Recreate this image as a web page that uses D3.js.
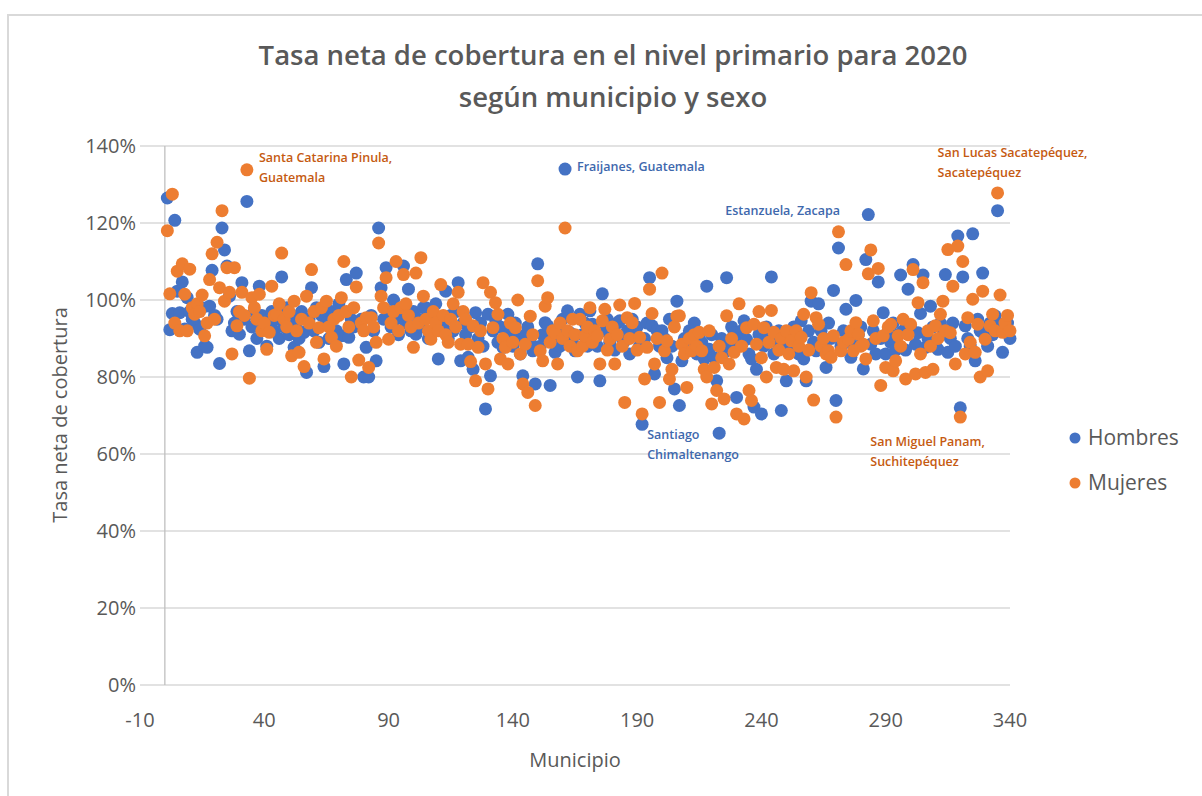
<!DOCTYPE html>
<html>
<head>
<meta charset="utf-8">
<script src="https://cdn.jsdelivr.net/npm/d3@7"></script>
<style>
  body { margin: 0; background: #fff; }
  text { font-family: "Open Sans", "Noto Sans", sans-serif; }
</style>
</head>
<body>
<div id="chart"></div>
<script>
// Tasa neta de cobertura (%) por municipio, 1..340
const hombres = [
  126.5, 92.3, 96.5, 120.7, 102.3, 96.7, 104.7, 92.5, 100.6, 97,
  95, 94, 86.4, 92.4, 98, 88, 87.7, 98.4, 107.7, 96,
  95, 83.5, 118.7, 113, 108.8, 101, 92, 94, 97, 91.1,
  104.5, 95, 125.6, 86.8, 93, 97, 90, 103.6, 96, 93.7,
  88, 94, 97, 92, 95, 90, 106, 93, 98, 91,
  96, 87.7, 94, 90, 97, 91.6, 81.2, 95, 103.2, 92,
  98, 89, 96, 82.7, 94, 90, 97, 96.3, 92, 99,
  90.7, 83.4, 105.3, 90.3, 95, 93, 107, 94, 95, 80,
  87.7, 80, 96, 92, 84.2, 118.7, 103.2, 95, 108.4, 97,
  93, 100, 95, 91, 96, 108.8, 94, 102.8, 92, 97,
  91.1, 95, 93, 98, 98, 90, 96, 92, 99, 84.7,
  95, 93, 102.3, 90, 96, 92, 97, 104.5, 84.2, 94,
  91, 85.1, 93, 82, 96.7, 90, 94, 88, 71.7, 96.3,
  80.3, 92, 95, 89, 93, 87.7, 90, 96.3, 92, 88,
  94, 90, 86, 80.3, 91, 93, 89, 86.8, 78.2, 109.4,
  88, 91, 94.1, 93.3, 77.8, 90, 86.4, 92, 88, 95,
  134, 97.2, 91.5, 89, 86.8, 80, 96.3, 91, 94, 88,
  97.2, 93.7, 90, 88, 79, 101.6, 92, 95, 89, 91,
  87, 94, 94.6, 90, 89.4, 92, 86, 95, 91, 93,
  88, 67.7, 90, 94, 105.8, 93.3, 80.8, 92, 88, 92,
  90, 85, 95, 88, 76.9, 99.7, 72.6, 84.2, 90, 87,
  92, 88, 94, 86, 91, 89, 84.7, 103.6, 87.2, 91,
  85, 79, 65.4, 90, 86.4, 105.8, 88, 93, 91.5, 74.7,
  89, 92, 94.6, 89.8, 86, 84.7, 72.2, 82, 91, 70.4,
  88, 93, 90, 106, 86, 89, 92, 71.3, 88, 79,
  91, 87, 93, 90, 86, 94.6, 84.7, 79, 92, 99.7,
  89, 86.8, 99, 92, 88, 82.5, 94, 90, 102.5, 73.9,
  113.5, 88, 92, 97.6, 90, 85.1, 88, 99.9, 91, 93,
  82.1, 110.5, 122.2, 88.5, 92, 86, 104.7, 90, 96.7, 86,
  92, 89, 94, 87, 91, 106.5, 92, 87, 102.8, 93,
  109.2, 88.5, 91.5, 96.5, 106.5, 87.7, 90, 98.4, 93, 88,
  87.2, 94, 92.4, 106.6, 86.4, 90, 94, 88, 116.6, 72,
  106, 93.3, 90, 88, 117.2, 84.2, 95, 92, 107, 90.3,
  88, 94, 91, 95.9, 123.2, 93.7, 86.4, 92, 94, 90
];
const mujeres = [
  118, 101.6, 127.5, 94, 107.5, 92, 109.4, 101.5, 92, 108,
  98, 96.3, 99, 97, 101.3, 90.7, 94, 105.3, 112, 95,
  115, 103.2, 123.2, 99.7, 108.4, 102, 86, 108.4, 93.3, 97,
  102, 96, 133.8, 79.7, 100.6, 98, 95, 101.5, 92, 94,
  87.2, 91.6, 103.6, 96, 96.3, 99, 112.2, 95, 93, 97,
  85.5, 99.7, 92, 86.4, 95, 82.7, 101, 94, 107.9, 97,
  89, 92.8, 98, 84.7, 99.7, 93, 90.3, 95, 88, 96,
  100.6, 110, 97, 93, 80, 98, 103.4, 84.4, 94, 92,
  95.4, 82.5, 95.4, 93, 89, 114.8, 101, 98, 105.8, 89.8,
  94, 97, 110, 92, 98, 106.6, 99, 96, 93, 87.7,
  107, 94, 111, 101, 95, 92, 89.8, 97, 94, 92,
  104, 96, 91, 89, 95, 99, 93, 102, 88.5, 97,
  95, 88.5, 84, 93.3, 79, 87.7, 92, 104.5, 83.4, 76.9,
  102, 92.8, 99.3, 96.3, 84.7, 90, 87.7, 83.4, 94, 89,
  92.8, 100, 86, 78.2, 88.5, 76, 95.8, 91, 72.6, 105,
  86.8, 84.2, 98.4, 100.6, 89, 92, 91.5, 83.4, 94, 90,
  118.7, 92, 88, 95, 91, 86.8, 95, 88, 90.7, 93,
  98, 89, 92, 90.7, 83.4, 94.6, 97.6, 87, 89.8, 93,
  83.4, 91, 98.7, 88, 73.4, 95.4, 90, 94.1, 99.1, 87,
  90.3, 70.4, 79.5, 87.7, 102.8, 96.5, 83.4, 90, 73.4, 107,
  86.8, 89.4, 79.5, 82, 93, 95.8, 95.9, 88.5, 86, 77.3,
  90, 86.8, 91, 88, 91.6, 86.8, 82, 80, 92, 73,
  82.5, 76.5, 88, 85, 74.3, 95.9, 83.4, 90, 86.4, 70.4,
  99, 88, 69.1, 92.8, 76.5, 73.9, 93.7, 88.5, 97, 85,
  92.8, 80, 89, 97.3, 91.6, 82.5, 87, 90, 82, 92,
  86, 89.4, 81.6, 92, 88, 90.3, 96.3, 80, 87, 101.9,
  74, 95.4, 93.7, 88, 90, 86, 86.8, 85.1, 90.7, 69.6,
  117.7, 86.8, 89, 109.2, 89.8, 92, 86.8, 94.1, 91.1, 88,
  88.5, 84.7, 106.8, 113, 94.6, 90, 108.2, 77.8, 90.7, 82.5,
  93, 93.7, 81.6, 84.2, 90.7, 88, 95, 79.5, 91, 93.7,
  107.9, 80.8, 99.3, 86, 104.5, 81.2, 92, 88, 82, 93.3,
  90, 96.3, 99.7, 92, 113.1, 91.5, 103.6, 83.4, 114, 69.6,
  110, 86, 95.4, 89, 100.2, 86.4, 93.7, 80, 102.3, 89.8,
  81.6, 93.3, 96.3, 92, 127.8, 101.3, 91.6, 94, 96, 92
];
const xTicks = [-10, 40, 90, 140, 190, 240, 290, 340];
const yTicks = [0, 20, 40, 60, 80, 100, 120, 140];
const seriesNames = ["Hombres", "Mujeres"];
const seriesColors = ["#4472C4", "#ED7D31"];

// etiquetas de municipios destacados: [municipio, serie, lineas]
const labels = [
  { m: 33, s: 1, lines: ["Santa Catarina Pinula,", "Guatemala"] },
  { m: 161, s: 0, lines: ["Fraijanes, Guatemala"] },
  { m: 283, s: 0, lines: ["Estanzuela, Zacapa"] },
  { m: 223, s: 0, lines: ["Santiago", "Chimaltenango"] },
  { m: 320, s: 1, lines: ["San Miguel Panam,", "Suchitepéquez"] },
  { m: 335, s: 1, lines: ["San Lucas Sacatepéquez,", "Sacatepéquez"] }
];

const width = 1202, height = 796;
const svg = d3.select("#chart").append("svg")
  .attr("width", width).attr("height", height);

// chart border
svg.append("rect")
  .attr("x", 8).attr("y", 15)
  .attr("width", 1210).attr("height", 800)
  .attr("fill", "#fff").attr("stroke", "#d9d9d9").attr("stroke-width", 2);

const x = d3.scaleLinear().domain([-10, 340]).range([140, 1010]);
const y = d3.scaleLinear().domain([0, 140]).range([685, 146]);

// title
const titleLines = ["Tasa neta de cobertura en el nivel primario para 2020", "según municipio y sexo"];
svg.append("g").selectAll("text")
  .data(titleLines)
  .join("text")
  .attr("x", 613).attr("y", (d, i) => 65 + i * 42)
  .attr("text-anchor", "middle")
  .attr("font-size", 27.5).attr("font-weight", 600).attr("fill", "#595959")
  .text(d => d);

// gridlines
svg.append("g").selectAll("line")
  .data(yTicks)
  .join("line")
  .attr("x1", x(-10)).attr("x2", x(340))
  .attr("y1", d => y(d)).attr("y2", d => y(d))
  .attr("stroke", "#d9d9d9").attr("stroke-width", 1.3);

// vertical axis line at x = 0
svg.append("line")
  .attr("x1", x(0)).attr("x2", x(0))
  .attr("y1", y(140)).attr("y2", y(0))
  .attr("stroke", "#bfbfbf").attr("stroke-width", 1.3);

// y tick labels
svg.append("g").selectAll("text")
  .data(yTicks)
  .join("text")
  .attr("x", x(-10) - 4).attr("y", d => y(d))
  .attr("dy", "0.35em")
  .attr("text-anchor", "end")
  .attr("font-size", 20).attr("fill", "#595959")
  .text(d => d + "%");

// x tick labels
svg.append("g").selectAll("text")
  .data(xTicks)
  .join("text")
  .attr("x", d => x(d)).attr("y", 720)
  .attr("dy", "0.35em")
  .attr("text-anchor", "middle")
  .attr("font-size", 20).attr("fill", "#595959")
  .text(d => d);

// axis titles
svg.append("text")
  .attr("x", 575).attr("y", 760)
  .attr("dy", "0.35em")
  .attr("text-anchor", "middle")
  .attr("font-size", 20).attr("fill", "#595959")
  .text("Municipio");
svg.append("text")
  .attr("transform", "translate(60,415) rotate(-90)")
  .attr("dy", "0.35em")
  .attr("text-anchor", "middle")
  .attr("font-size", 20).attr("fill", "#595959")
  .text("Tasa neta de cobertura");

// points
const series = [hombres, mujeres];
series.forEach((vals, s) => {
  svg.append("g").selectAll("circle")
    .data(vals)
    .join("circle")
    .attr("cx", (d, i) => x(i + 1))
    .attr("cy", d => y(d))
    .attr("r", 6.5)
    .attr("fill", seriesColors[s]);
});

// data labels
const labelColors = ["#3e68ad", "#c55a11"];
const labelOffsets = {
  33: [12, -8], 161: [12, 2], 283: [-143, 0],
  223: [-72, 6], 320: [-90, 29], 335: [-60, -36]
};
labels.forEach(l => {
  const v = series[l.s][l.m - 1];
  const off = labelOffsets[l.m];
  const t = svg.append("text")
    .attr("x", x(l.m) + off[0]).attr("y", y(v) + off[1])
    .attr("font-size", 12.5).attr("font-weight", 600)
    .attr("fill", labelColors[l.s]);
  l.lines.forEach((ln, k) => {
    t.append("tspan").attr("x", x(l.m) + off[0]).attr("dy", k === 0 ? 0 : 20).text(ln);
  });
});

// legend
seriesNames.forEach((name, i) => {
  const ly = 438 + i * 45;
  svg.append("circle").attr("cx", 1075).attr("cy", ly).attr("r", 5.5).attr("fill", seriesColors[i]);
  svg.append("text").attr("x", 1088).attr("y", ly).attr("dy", "0.35em")
    .attr("font-size", 21).attr("fill", "#595959").text(name);
});
</script>
</body>
</html>
